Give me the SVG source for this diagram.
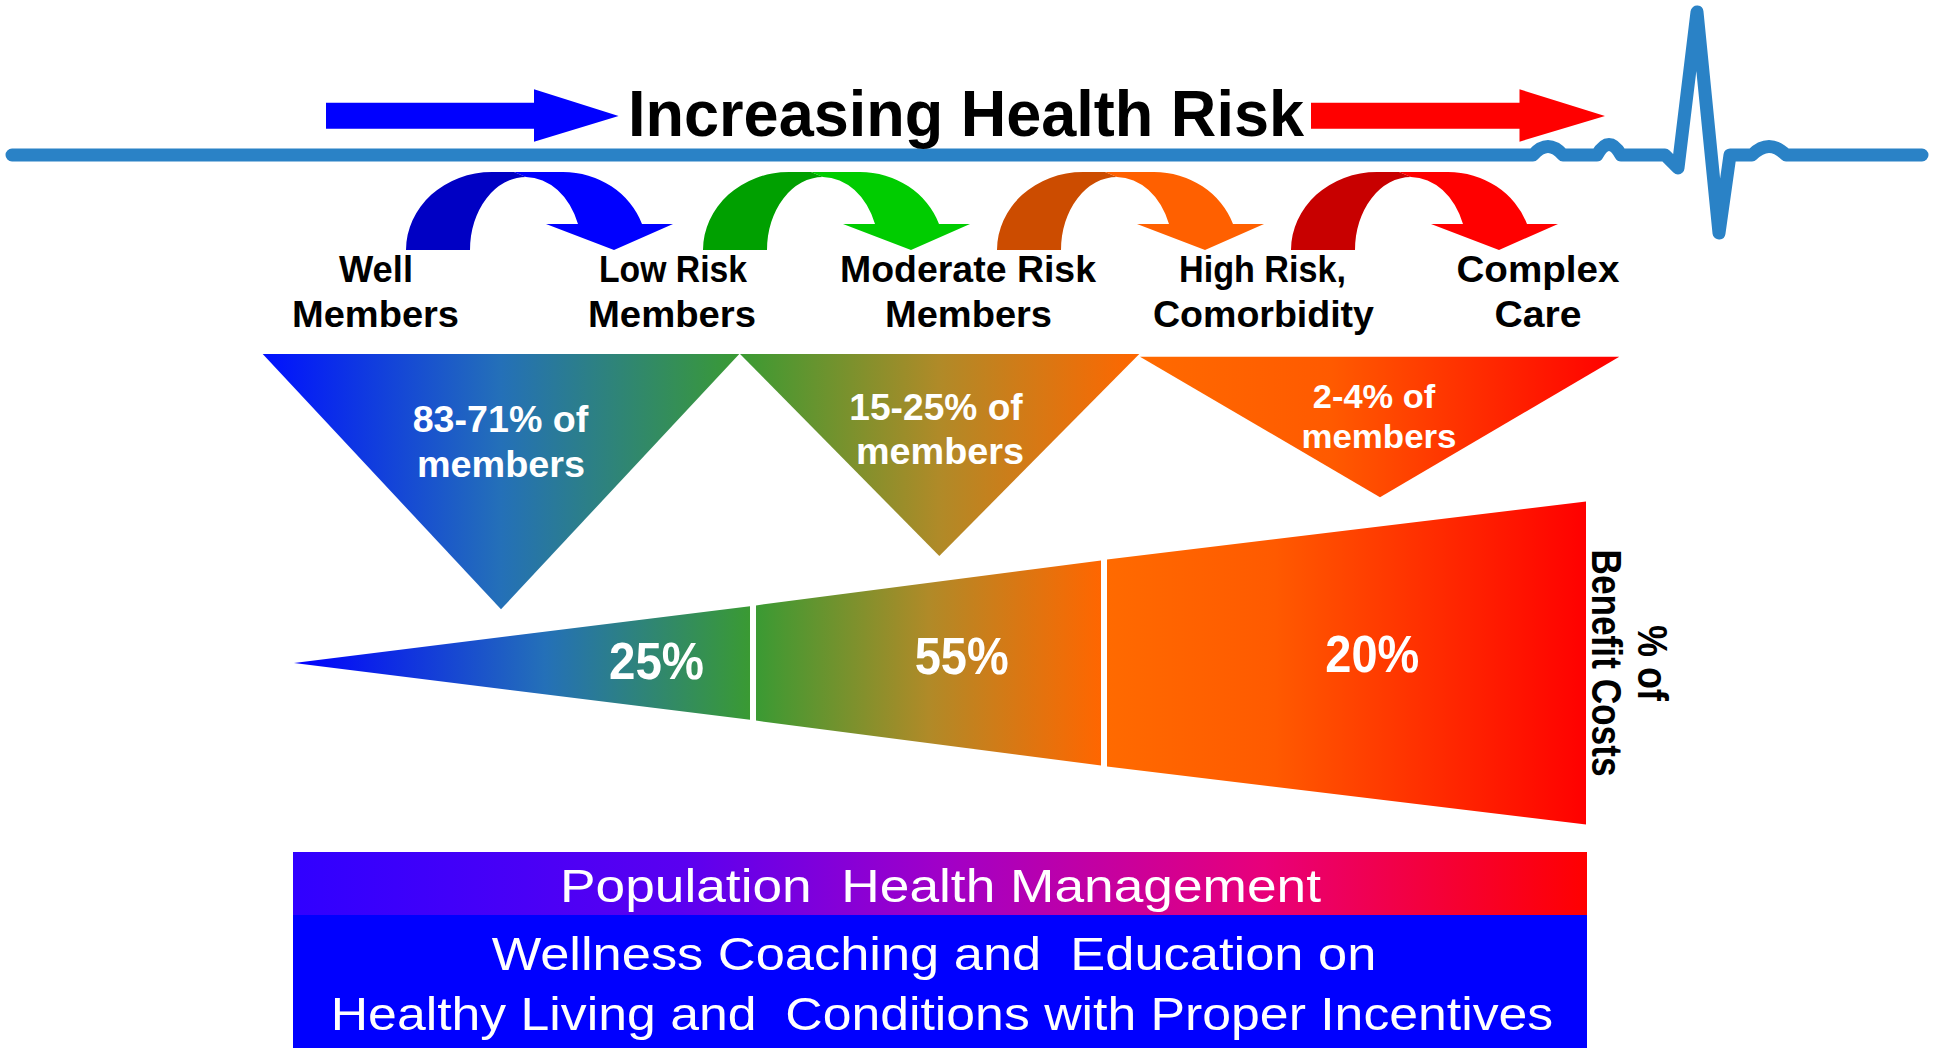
<svg xmlns="http://www.w3.org/2000/svg" xmlns:xlink="http://www.w3.org/1999/xlink" width="1937" height="1048" viewBox="0 0 1937 1048">
<style>
.lbl{font-family:"Liberation Sans",Arial,sans-serif;font-weight:bold;font-size:37px;fill:#000;text-anchor:middle}
.tri{font-family:"Liberation Sans",Arial,sans-serif;font-weight:bold;font-size:36px;fill:#fff;text-anchor:middle}
.pct{font-family:"Liberation Sans",Arial,sans-serif;font-weight:bold;font-size:51px;fill:#fff;text-anchor:middle}
.bar{font-family:"Liberation Sans",Arial,sans-serif;font-size:47px;fill:#fff;text-anchor:middle;white-space:pre}
.title{font-family:"Liberation Sans",Arial,sans-serif;font-weight:bold;font-size:65px;fill:#000}
.side{font-family:"Liberation Sans",Arial,sans-serif;font-weight:bold;font-size:42px;fill:#000;text-anchor:middle}
</style>
<defs>
<linearGradient id="gT1" gradientUnits="userSpaceOnUse" x1="262" y1="0" x2="740" y2="0">
<stop offset="0" stop-color="#0010FF"/><stop offset="0.5" stop-color="#2470B8"/><stop offset="1" stop-color="#3A9A33"/>
</linearGradient>
<linearGradient id="gT2" gradientUnits="userSpaceOnUse" x1="740" y1="0" x2="1139" y2="0">
<stop offset="0" stop-color="#3A9A33"/><stop offset="0.5" stop-color="#B08A28"/><stop offset="1" stop-color="#FF6600"/>
</linearGradient>
<linearGradient id="gT3" gradientUnits="userSpaceOnUse" x1="1140" y1="0" x2="1619" y2="0">
<stop offset="0" stop-color="#FF6A00"/><stop offset="0.4" stop-color="#FF5A00"/><stop offset="1" stop-color="#FF0000"/>
</linearGradient>
<linearGradient id="gW1" gradientUnits="userSpaceOnUse" x1="294" y1="0" x2="750" y2="0">
<stop offset="0" stop-color="#0000FF"/><stop offset="0.55" stop-color="#2470B8"/><stop offset="1" stop-color="#3A9A33"/>
</linearGradient>
<linearGradient id="gW2" gradientUnits="userSpaceOnUse" x1="756" y1="0" x2="1101" y2="0">
<stop offset="0" stop-color="#3A9A33"/><stop offset="0.5" stop-color="#B08A28"/><stop offset="1" stop-color="#FF6600"/>
</linearGradient>
<linearGradient id="gW3" gradientUnits="userSpaceOnUse" x1="1107" y1="0" x2="1586" y2="0">
<stop offset="0" stop-color="#FF6A00"/><stop offset="0.35" stop-color="#FF5A00"/><stop offset="1" stop-color="#FF0000"/>
</linearGradient>
<linearGradient id="gBar" gradientUnits="userSpaceOnUse" x1="293" y1="0" x2="1587" y2="0">
<stop offset="0" stop-color="#3000FF"/><stop offset="0.3" stop-color="#5A00F0"/><stop offset="0.5" stop-color="#A000C8"/><stop offset="0.75" stop-color="#E8007A"/><stop offset="1" stop-color="#FF0000"/>
</linearGradient>
<path id="arcDark" d="M0,250 A86,78 0 0 1 86,172 L108,172 L120,177 A56,73 0 0 0 64,250 Z"/>
<path id="arcLight" d="M108,172 L157,172 A84,78 0 0 1 236,224 L267,224 L208,250 L140,224 L172,224 A56,73 0 0 0 120,177 Z"/>
</defs>
<rect width="1937" height="1048" fill="#fff"/>

<g id="heartbeat">
<path d="M12,155 L1533,155 Q1548,138 1563,155 L1597,155 Q1609,134 1621,155 L1665,155 L1678,168 L1697,12 L1719,233 L1730,155 L1752,155 Q1769,138 1786,155 L1922,155" fill="none" stroke="#2A82C6" stroke-width="13" stroke-linejoin="round" stroke-linecap="round"/>
</g>

<g id="title">
<polygon points="326,102.7 534,102.7 534,89.3 618.6,116 534,141.7 534,128.7 326,128.7" fill="#0000FF"/>
<text class="title" x="628" y="136" textLength="676" lengthAdjust="spacingAndGlyphs">Increasing Health Risk</text>
<polygon points="1311,102.7 1519.5,102.7 1519.5,89.3 1605,116 1519.5,141.7 1519.5,128.7 1311,128.7" fill="#FF0000"/>
</g>

<g id="connectors">
<g id="arrow-well-low" transform="translate(406,0)">
<use xlink:href="#arcDark" fill="#0000C4"/><use xlink:href="#arcLight" fill="#0000FF"/>
</g>
<g id="arrow-low-moderate" transform="translate(703,0)">
<use xlink:href="#arcDark" fill="#00A000"/><use xlink:href="#arcLight" fill="#00CC00"/>
</g>
<g id="arrow-moderate-high" transform="translate(997,0)">
<use xlink:href="#arcDark" fill="#CC4C00"/><use xlink:href="#arcLight" fill="#FF6000"/>
</g>
<g id="arrow-high-complex" transform="translate(1291,0)">
<use xlink:href="#arcDark" fill="#C80000"/><use xlink:href="#arcLight" fill="#FF0000"/>
</g>
</g>

<g id="node-well">
<text class="lbl" x="376" y="281.7" textLength="74" lengthAdjust="spacingAndGlyphs">Well</text>
<text class="lbl" x="375.5" y="326.7" textLength="167" lengthAdjust="spacingAndGlyphs">Members</text>
</g>
<g id="node-low">
<text class="lbl" x="673" y="281.7" textLength="148" lengthAdjust="spacingAndGlyphs">Low Risk</text>
<text class="lbl" x="672" y="326.7" textLength="168" lengthAdjust="spacingAndGlyphs">Members</text>
</g>
<g id="node-moderate">
<text class="lbl" x="968" y="281.7" textLength="256" lengthAdjust="spacingAndGlyphs">Moderate Risk</text>
<text class="lbl" x="968.5" y="326.7" textLength="167" lengthAdjust="spacingAndGlyphs">Members</text>
</g>
<g id="node-high">
<text class="lbl" x="1262.5" y="281.7" textLength="167" lengthAdjust="spacingAndGlyphs">High Risk,</text>
<text class="lbl" x="1263.5" y="326.7" textLength="221" lengthAdjust="spacingAndGlyphs">Comorbidity</text>
</g>
<g id="node-complex">
<text class="lbl" x="1538" y="281.7" textLength="163" lengthAdjust="spacingAndGlyphs">Complex</text>
<text class="lbl" x="1538" y="326.7" textLength="87" lengthAdjust="spacingAndGlyphs">Care</text>
</g>

<g id="members-well-low">
<polygon points="262.7,354 739.3,354 501,609.3" fill="url(#gT1)"/>
<text class="tri" x="500.5" y="431.7" textLength="175.6" lengthAdjust="spacingAndGlyphs">83-71% of</text>
<text class="tri" x="501" y="476.7" textLength="168" lengthAdjust="spacingAndGlyphs">members</text>
</g>
<g id="members-moderate">
<polygon points="740,354 1139.3,354 939.3,556" fill="url(#gT2)"/>
<text class="tri" x="936" y="420" textLength="173.4" lengthAdjust="spacingAndGlyphs">15-25% of</text>
<text class="tri" x="940" y="464" textLength="168" lengthAdjust="spacingAndGlyphs">members</text>
</g>
<g id="members-high">
<polygon points="1140,356.7 1619.3,356.7 1380,497.3" fill="url(#gT3)"/>
<text class="tri" x="1374" y="407.7" textLength="122.3" lengthAdjust="spacingAndGlyphs" style="font-size:34px">2-4% of</text>
<text class="tri" x="1379" y="448.3" textLength="155" lengthAdjust="spacingAndGlyphs" style="font-size:34px">members</text>
</g>

<g id="costs-1">
<polygon points="294,663 750,606.2 750,719.8" fill="url(#gW1)"/>
<text class="pct" x="656.5" y="678.7" textLength="95" lengthAdjust="spacingAndGlyphs">25%</text>
</g>
<g id="costs-2">
<polygon points="756,605.4 1101,560.5 1101,765.5 756,720.6" fill="url(#gW2)"/>
<text class="pct" x="961.7" y="674.3" textLength="94" lengthAdjust="spacingAndGlyphs">55%</text>
</g>
<g id="costs-3">
<polygon points="1107,559.5 1586,501.5 1586,824.5 1107,766.5" fill="url(#gW3)"/>
<text class="pct" x="1372.3" y="671.7" textLength="94" lengthAdjust="spacingAndGlyphs">20%</text>
</g>
<g id="costs-label">
<text class="side" transform="translate(1638,663) rotate(90)" x="0" y="0" textLength="76" lengthAdjust="spacingAndGlyphs">% of</text>
<text class="side" transform="translate(1592,663) rotate(90)" x="0" y="0" textLength="227" lengthAdjust="spacingAndGlyphs">Benefit Costs</text>
</g>

<g id="phm-bar">
<rect x="293" y="852" width="1294" height="63" fill="url(#gBar)"/>
<text class="bar" x="940.5" y="902" textLength="761" lengthAdjust="spacingAndGlyphs" xml:space="preserve">Population  Health Management</text>
</g>
<g id="wellness-box">
<rect x="293" y="915" width="1294" height="133" fill="#0000FF"/>
<text class="bar" x="934" y="970" textLength="884.6" lengthAdjust="spacingAndGlyphs" xml:space="preserve">Wellness Coaching and  Education on</text>
<text class="bar" x="942" y="1030" textLength="1222.5" lengthAdjust="spacingAndGlyphs" xml:space="preserve">Healthy Living and  Conditions with Proper Incentives</text>
</g>
</svg>
